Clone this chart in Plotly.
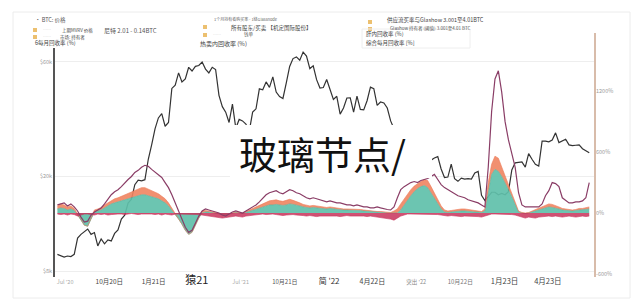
import pandas as pd
import plotly.graph_objects as go

# ---------------- data (weekly) ----------------
dates = pd.date_range("2020-06-15", periods=159, freq="7D")

btc_price = [
    9400, 9300, 9150, 9250, 9200, 9400, 11000, 11400, 11700, 12000, 11400, 11600, 10200, 10900, 10400, 10800,
    10700, 11500, 11900, 13200, 13700, 15400, 16000, 18400, 19200, 19100, 19300, 23500, 27000,
    31500, 35000, 36500, 32300, 33500, 46500, 48000, 54000, 49500, 51000, 57000, 55000, 57500, 58000, 60000,
    56000, 54000, 57000, 55800, 43500, 39000, 37000, 33500, 40000, 31700, 34500, 34000, 33000, 30800, 37000,
    38200, 46300, 45900, 49500, 47000, 52000, 44900, 43000, 42200, 49100, 57500, 62000, 63000, 61000, 66000,
    63500, 56300, 57800, 50600, 46700, 46900, 50700,
    46400, 41800, 43100, 36300, 38500, 42400, 42500, 37000, 43200, 38000, 37800, 41300, 47100, 46400, 39500,
    40800, 40400, 38500, 34000, 31300, 29200, 31800, 31400, 22500, 20600, 20700, 20200, 20800, 22500, 21300,
    23300, 23800, 24100, 21400, 19700, 19800, 22400, 19500, 19000, 19600, 19400, 19500, 19400, 20600, 20900,
    16600, 15800, 16400, 17100, 17100, 16700, 16900,
    16700, 17200, 21200, 22700, 22800, 22900, 21800, 24800, 23500, 22400, 22000, 28000, 28000, 27800, 28300,
    30300, 27600, 28100, 28500, 27000, 26800, 26900, 27000, 26000, 25500, 25000,
]

purple_pct = [
    80, 90, 100, 70, 90, 60, 20, -40, -90, -80, -20, 10, 30, 50, 90, 140, 180, 210, 230,
    260, 300, 330, 360, 400, 420, 450, 470, 460, 430, 400, 380, 350, 300,
    250, 180, 100, 30, -60, -140, -190, -170, -100, -30, 20, 40, 30,
    20, 10, 0, -20, -30, -10, 10, 20, 10, 0, 20, 40, 60, 80,
    110, 150, 180, 200, 210, 220, 200, 190, 210, 230, 220, 200, 190,
    170, 150, 140, 150, 140, 130, 120, 110, 120, 110, 100, 100, 90, 80, 80, 70, 80, 70, 60, 60, 50, 50, 60, 50, 40, 35,
    30, 60, 150, 230, 260, 280, 300, 310, 300, 320, 330, 340, 360, 380, 330, 280, 250, 230, 210, 190, 170, 160,
    150, 130, 120, 110, 100, 80, 60,
    450, 1000, 1320, 1400, 1190, 900, 720, 580, 450, 200,
    80, 60, 60, 55, 60, 60, 90, 170, 220, 300, 290, 260, 150, 120, 100, 100, 110, 110, 120, 150, 300,
]

teal_pct = [
    40, 50, 45, 30, 40, 25, -20, -70, -120, -130, -60, 10, 20, 30, 50, 70, 90, 100, 110,
    120, 130, 140, 150, 160, 170, 180, 180, 170, 160, 150, 140, 120, 100,
    70, 30, -20, -60, -110, -170, -210, -190, -120, -50, 0, 10, 10,
    5, 0, -10, -20, -20, -10, 0, 5, 0, -5, 5, 15, 25, 35,
    50, 60, 70, 80, 80, 85, 80, 75, 80, 90, 85, 80, 70,
    60, 55, 50, 55, 50, 45, 40, 40, 45, 40, 35, 35, 30, 30, 30, 25, 30, 25, 20, 20, 15, 15, 10, 10, 5, 0,
    0, 0, 0, 30, 80, 130, 170, 210, 240, 260, 270, 250, 200, 150, 90, 40, 10,
    5, 10, 15, 20, 20, 20, 15, 15, 10, 10, 5, 20,
    200, 380, 430, 410, 360, 300, 230, 160, 80, 10,
    0, -5, 0, 10, 20, 30, 40, 50, 60, 55, 50, 40, 30, 25, 20, 20, 25, 30, 30, 35, 40,
]

orange_pct = [
    30, 40, 35, 30, 30, 20, 10, 0, 0, 0, 10, 20, 20, 25, 30, 30, 35, 40, 40,
    45, 50, 55, 60, 65, 70, 70, 70, 65, 60, 55, 50, 45, 40,
    30, 20, 10, 0, 0, 0, 0, 0, 0, 10, 20, 15, 10,
    10, 5, 5, 0, 0, 0, 5, 5, 5, 5, 10, 15, 20, 25,
    30, 35, 40, 40, 45, 45, 40, 40, 45, 45, 40, 35, 30,
    25, 20, 20, 20, 20, 15, 15, 15, 15, 15, 10, 10, 10, 10, 10, 10, 10, 10, 10, 5, 5, 5, 5, 5, 5, 5,
    5, 20, 40, 60, 60, 60, 60, 55, 50, 50, 60, 70, 60, 50, 40, 30, 20, 15, 15, 15, 20, 20, 20, 20, 15, 15,
    10, 10, 20,
    100, 100, 130, 130, 90, 60, 50, 30, 20, 10,
    5, 5, 5, 10, 10, 15, 20, 25, 30, 30, 25, 20, 15, 15, 10, 10, 10, 15, 15, 15, 20,
]

crimson_pct = [
    -10, -15, -10, -20, -10, -15, -30, -20, -10, -10, -15, -20, -10, -15, -10, -20, -15, -10, -10,
    -10, -15, -10, -5, -10, -15, -10, -10, -5, -10, -15, -10, -20, -10,
    -15, -20, -10, -10, -10, -10, -10, -10, -10, -15, -20, -25, -30,
    -30, -35, -40, -50, -45, -40, -35, -30, -35, -40, -30, -25, -20, -20,
    -15, -10, -15, -10, -10, -15, -20, -25, -20, -15, -15, -20, -20,
    -25, -30, -25, -30, -35, -30, -30, -25, -30, -25, -30, -35, -30, -25, -30, -30, -25, -30, -30, -35, -30,
    -35, -40, -40, -45, -50,
    -60, -70, -50, -30, -20, -10, -10, -10, -10, -10, -10, -10, -10, -15, -15, -20, -25, -30, -25, -30, -30,
    -35, -30, -30, -35, -30, -35, -40, -30,
    -20, -10, -10, -10, -10, -10, -10, -15, -20, -30,
    -45, -50, -40, -45, -50, -40, -35, -30, -30, -35, -30, -35, -40, -35, -30, -35, -40, -35, -30, -35, -30,
]

x_tick_dates = ["2020-07-01", "2020-10-01", "2021-01-01", "2021-04-01", "2021-07-01", "2021-10-01",
                "2022-01-01", "2022-04-01", "2022-07-01", "2022-10-01", "2023-01-01", "2023-04-01"]
x_tick_labels = ["Jul '20", "10月20日", "1月21日", "猿21", "Jul '21", "10月21日",
                 "简 '22", "4月22日", "突出 '22", "10月22日", "1月23日", "4月23日"]
x_tick_styles = [("#aaa", 5.5), ("#444", 6.5), ("#444", 6.5), ("#222", 11), ("#aaa", 5.5), ("#555", 6),
                 ("#333", 8), ("#444", 7), ("#888", 5.5), ("#777", 6), ("#444", 7.5), ("#444", 7.5)]

price_ticks = [8000, 20000, 60000]
price_tick_labels = ["$8k", "$20k", "$60k"]
pct_ticks = [-600, 0, 600, 1200]
pct_tick_labels = ["-600%", "0%", "600%", "1200%"]

n = len(dates)
for arr in (btc_price, purple_pct, teal_pct, orange_pct, crimson_pct):
    assert len(arr) == n, len(arr)

orange_top = [t + o for t, o in zip(teal_pct, orange_pct)]

# ---------------- layout geometry (pixels) ----------------
W, H = 640, 303
PL, PR, PT, PB = 55, 595, 48, 277


def px(x):
    return (x - PL) / (PR - PL)


def py(y):
    return (PB - y) / (PB - PT)


fig = go.Figure()

fig.add_trace(go.Scatter(x=dates, y=btc_price, mode="lines", yaxis="y",
                         line=dict(color="#333333", width=1.2), showlegend=False))
fig.add_trace(go.Scatter(x=dates, y=teal_pct, mode="lines", yaxis="y2", fill="tozeroy",
                         fillcolor="rgba(95,192,170,0.92)", line=dict(color="rgba(80,180,160,1)", width=0.6),
                         showlegend=False))
fig.add_trace(go.Scatter(x=dates, y=orange_top, mode="lines", yaxis="y2", fill="tonexty",
                         fillcolor="rgba(240,132,96,0.9)", line=dict(color="rgba(236,120,86,1)", width=0.6),
                         showlegend=False))
fig.add_trace(go.Scatter(x=dates, y=crimson_pct, mode="lines", yaxis="y2", fill="tozeroy",
                         fillcolor="rgba(200,50,90,0.85)", line=dict(color="rgba(200,50,90,1)", width=0.6),
                         showlegend=False))
fig.add_trace(go.Scatter(x=dates, y=purple_pct, mode="lines", yaxis="y2",
                         line=dict(color="#8a3d66", width=1.2), showlegend=False))

ticktext = [f'<span style="color:{c};font-size:{s}px">{t}</span>'
            for t, (c, s) in zip(x_tick_labels, x_tick_styles)]

fig.update_layout(
    width=W, height=H,
    margin=dict(l=PL, r=W - PR, t=PT, b=H - PB),
    paper_bgcolor="white", plot_bgcolor="white",
    font=dict(family="Noto Sans CJK SC, Noto Sans, sans-serif", color="#555", size=6),
    xaxis=dict(type="date", range=["2020-06-10", "2023-07-08"], tickvals=x_tick_dates,
               ticktext=ticktext, showgrid=False, zeroline=False, showline=False, ticks=""),
    yaxis=dict(type="log", range=[3.8784, 4.8366], tickvals=price_ticks, ticktext=price_tick_labels,
               showgrid=True, gridcolor="#eeeeee", gridwidth=1, zeroline=False,
               showline=True, linecolor="#555", linewidth=1.5, ticks="",
               tickfont=dict(size=5.5, color="#999")),
    yaxis2=dict(overlaying="y", side="right", range=[-630, 1625], tickvals=pct_ticks,
                ticktext=pct_tick_labels, showgrid=False, zeroline=False, showline=False, ticks="",
                tickfont=dict(size=5.5, color="#999")),
)

shapes = []
# outer faint frame
shapes.append(dict(type="rect", xref="paper", yref="paper", x0=px(13), x1=px(630), y0=py(298), y1=py(12),
                   line=dict(color="#ececec", width=1), layer="below"))
# right axis line
shapes.append(dict(type="line", xref="paper", yref="paper", x0=px(595), x1=px(595), y0=py(277), y1=py(33),
                   line=dict(color="#d8bcaa", width=2)))
# legend boxes
for bx, by in [(35, 30), (35, 37), (205, 27), (205, 35), (370, 22), (370, 29)]:
    shapes.append(dict(type="rect", xref="paper", yref="paper", x0=px(bx - 2), x1=px(bx + 2),
                       y0=py(by + 2), y1=py(by - 2), line=dict(width=0), fillcolor="#ecc070"))
# faint box around third legend group
shapes.append(dict(type="rect", xref="paper", yref="paper", x0=px(362), x1=px(470), y0=py(48), y1=py(29),
                   line=dict(color="#eeeeee", width=1)))
# watermark background
shapes.append(dict(type="rect", xref="paper", yref="paper", x0=px(230), x1=px(432), y0=py(178), y1=py(125),
                   line=dict(width=0), fillcolor="white", layer="above"))
fig.update_layout(shapes=shapes)

legend_items = [
    (33, 20, "• BTC: 价格", 5.5, "#555"),
    (41, 30, "……", 4, "#ccc"),
    (60, 30, "上期MVRV 价格", 4.5, "#444"),
    (102, 30, "尼特 2.01 - 0.14BTC", 6, "#555"),
    (41, 37, "……", 4, "#ccc"),
    (58, 37, "市场: 持有者", 4.5, "#444"),
    (33, 43, "6每月回收率 (%)", 5.5, "#444"),
    (212, 19, "1个月持有者购买率 - 1链Glassnode", 4, "#666"),
    (229, 28, "所有股东/买卖 【机定国际股份】", 5.5, "#444"),
    (211, 35, "……", 4, "#ccc"),
    (242, 35, "钱单", 4.5, "#555"),
    (198, 44, "热卖内回收率 (%)", 6, "#444"),
    (385, 20, "供应流买率与Glashow 3.001至4.01BTC", 5.5, "#444"),
    (388, 28, "Glashow 持有者 (阈值) 3.001至4.01 BTC", 4.5, "#555"),
    (364, 34, "肝内回收率 (%)", 5.5, "#444"),
    (364, 43, "综合每月回收率 [%]", 5.5, "#444"),
]
annotations = []
for x, y, t, s, c in legend_items:
    annotations.append(dict(xref="paper", yref="paper", x=px(x), y=py(y), text=t, showarrow=False,
                            xanchor="left", yanchor="middle", font=dict(size=s, color=c)))
annotations.append(dict(xref="paper", yref="paper", x=px(322), y=py(152), text="玻璃节点/", showarrow=False,
                        xanchor="center", yanchor="middle",
                        font=dict(size=38, color="#111", family="Noto Sans CJK SC")))
fig.update_layout(annotations=annotations)

fig.write_html("out.html")
